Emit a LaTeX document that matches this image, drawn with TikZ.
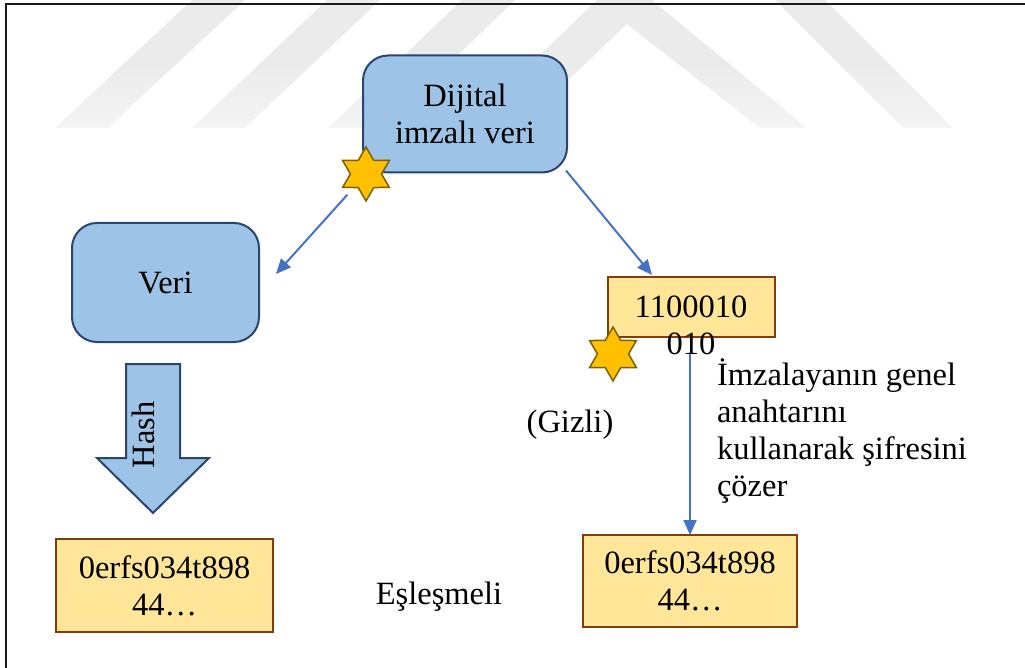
\documentclass[tikz,border=0pt]{standalone}
\usepackage{fontspec}
\setmainfont{Liberation Serif}
\usetikzlibrary{arrows.meta,shapes.geometric}

\definecolor{boxblue}{HTML}{9DC3E6}
\definecolor{boxnavy}{HTML}{2B4470}
\definecolor{notefill}{HTML}{FFE699}
\definecolor{notebrown}{HTML}{843C0C}
\definecolor{starfill}{HTML}{FFC000}
\definecolor{staredge}{HTML}{7F6000}
\definecolor{linkblue}{HTML}{4472C4}
\definecolor{markgray}{HTML}{EBEBEB}
\definecolor{marklight}{HTML}{F4F4F4}
\definecolor{framegray}{HTML}{1A1A1A}

\begin{document}
\begin{tikzpicture}[x=1pt,y=-1pt,
  every node/.style={font=\fontsize{32.5}{37}\selectfont, inner sep=0pt, outer sep=0pt},
  roundbox/.style={draw=boxnavy, line width=2pt, fill=boxblue, rounded corners=25pt, align=center},
  valuebox/.style={draw=notebrown, line width=2.2pt, fill=notefill, align=center},
  hexstar/.style={star, star points=6, star point ratio=1.732, minimum size=54pt,
                  fill=starfill, draw=staredge, line width=1.5pt},
  link/.style={draw=linkblue, line width=2pt, -{Triangle[length=15pt,width=13pt]}},
  stripe/.style={top color=markgray, bottom color=marklight, middle color=markgray, draw=none}
]
\useasboundingbox (0,0) rectangle (1025,668);

% faint background stripes
\shade[stripe] (55,128) -- (108,128) -- (245,0) -- (192,0) -- cycle;
\shade[stripe] (192,128) -- (245,128) -- (380,0) -- (327,0) -- cycle;
\shade[stripe] (328,128) -- (382,128) -- (515,0) -- (462,0) -- cycle;
\shade[stripe] (464,128) -- (518,128) -- (652,0) -- (597,0) -- cycle;
\shade[stripe] (596,0) -- (652,0) -- (807,128) -- (760,128) -- cycle;
\shade[stripe] (775,0) -- (825,0) -- (953,128) -- (903,128) -- cycle;

% frame lines
\draw[framegray, line width=1.6pt] (6,668) -- (6,4) -- (1025,4);

% boxes
\node[roundbox, minimum width=204pt, minimum height=117pt] (signed) at (465,114) {Dijital\\imzalı veri};
\node[roundbox, minimum width=187pt, minimum height=119pt] (data) at (165.5,282.5) {Veri};
\node[valuebox, minimum width=167pt, minimum height=60pt] (cipher) at (691.5,307) {};
\node[align=center] (cipherbits) at (691,325) {1100010\\010};
\node[valuebox, minimum width=217pt, minimum height=93pt] (hashA) at (164.5,585.5) {0erfs034t898\\44…};
\node[valuebox, minimum width=214pt, minimum height=92pt] (hashB) at (690,581) {0erfs034t898\\44…};

% hash block arrow
\draw[draw=boxnavy, line width=2pt, fill=boxblue, line join=miter]
  (126,364) -- (180,364) -- (180,458) -- (209,458) -- (153,513) -- (97,458) -- (126,458) -- cycle;
\node[rotate=90] (hashlabel) at (143,435) {Hash};

% labels
\node (secret) at (570,425) {(Gizli)};
\node (match) at (439,597) {Eşleşmeli};
\node[align=left, anchor=west] (decrypt) at (717,431)
  {İmzalayanın genel\\anahtarını\\kullanarak şifresini\\çözer};

% connectors
\coordinate (dataend) at (276,274);
\coordinate (cipherend) at (652,275);
\coordinate (seal1c) at (366,174);
\draw[link, shorten <=28pt] (seal1c) -- (dataend);
\draw[link] ([xshift=-1pt,yshift=2pt]signed.south east) -- (cipherend);
\draw[link] (cipherbits.south -| hashB.north) -- (hashB.north);

% seals
\node[hexstar] (seal1) at (seal1c) {};
\node[hexstar] (seal2) at (613,354) {};
\end{tikzpicture}
\end{document}
